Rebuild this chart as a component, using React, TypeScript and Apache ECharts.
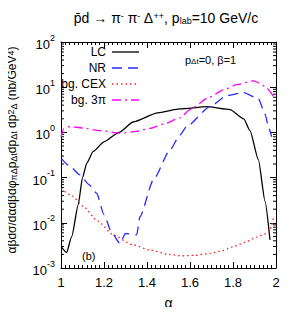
import React, { useEffect, useRef } from "react";
import * as echarts from "echarts";

const xTicks = [1, 1.2, 1.4, 1.6, 1.8, 2];

const lcAlpha = [1.0, 1.026, 1.05, 1.08, 1.1, 1.12, 1.15, 1.2, 1.27, 1.336, 1.45, 1.553, 1.678, 1.786, 1.85, 1.879, 1.918, 1.949, 1.972];
const lcValues = [0.003, 0.0022, 0.005, 0.025, 0.1, 0.21, 0.38, 0.62, 1.0, 1.7, 2.7, 3.3, 3.7, 3.2, 2.0, 1.1, 0.25, 0.03, 0.0042];

const nrAlpha = [1.0, 1.04, 1.088, 1.13, 1.166, 1.2, 1.236, 1.274, 1.3, 1.352, 1.367, 1.43, 1.507, 1.553, 1.584, 1.693, 1.77, 1.848, 1.918, 1.95, 1.964, 1.98];
const nrValues = [0.27, 0.18, 0.115, 0.07, 0.045, 0.015, 0.006, 0.0035, 0.0058, 0.0054, 0.0135, 0.09, 0.41, 0.87, 1.35, 3.7, 6.5, 7.6, 5.6, 2.5, 1.35, 0.8];

const cexAlpha = [1.0, 1.05, 1.104, 1.17, 1.243, 1.33, 1.414, 1.5, 1.56, 1.62, 1.693, 1.75, 1.805, 1.856, 1.91, 1.938, 1.97, 1.98, 1.99];
const cexValues = [0.057, 0.04, 0.023, 0.011, 0.0054, 0.0033, 0.0025, 0.002, 0.00186, 0.0019, 0.0021, 0.0024, 0.003, 0.0037, 0.0048, 0.0054, 0.0063, 0.009, 0.014];

const bg3Alpha = [1.0, 1.012, 1.042, 1.1, 1.181, 1.274, 1.35, 1.414, 1.48, 1.553, 1.6, 1.69, 1.755, 1.82, 1.894, 1.93, 1.957, 1.988];
const bg3Values = [0.8, 1.2, 1.35, 1.25, 1.1, 0.96, 1.05, 1.23, 1.55, 2.1, 3.2, 6.0, 8.7, 11.5, 13.8, 12, 9.5, 6.2];

const legendNames = ["LC", "NR", "bg. CEX", "bg. 3\u03c0"];
const decades = [-3, -2, -1, 0, 1];

const FONT = "Liberation Sans, Arial, sans-serif";

function pairs(xs: number[], ys: number[]) {
  return xs.map((x, i) => [x, ys[i]]);
}

export default function App() {
  const ref = useRef<HTMLDivElement>(null);
  useEffect(() => {
    if (!ref.current) return;
    const chart = echarts.init(ref.current, undefined, { renderer: "svg" });
    const minorVals: number[][] = [];
    decades.forEach((d) => {
      for (let k = 2; k <= 9; k++) minorVals.push([1, k * Math.pow(10, d)]);
    });
    const supStyle = { fontSize: 9, verticalAlign: "top" as const, lineHeight: 9, fontFamily: FONT, color: "#000" };
    const subStyle = { fontSize: 9, verticalAlign: "bottom" as const, lineHeight: 9, fontFamily: FONT, color: "#000" };
    const styles = [
      { color: "#000000", type: "solid" as any },
      { color: "#2b2bff", type: [10, 6] as any },
      { color: "#ff2020", type: [1.5, 3] as any },
      { color: "#ff00ff", type: [9, 4, 2, 4] as any },
    ];
    const datasets = [
      pairs(lcAlpha, lcValues),
      pairs(nrAlpha, nrValues),
      pairs(cexAlpha, cexValues),
      pairs(bg3Alpha, bg3Values),
    ];
    const legendY = [52, 68, 84, 100];
    const legendGraphics: any[] = [];
    legendNames.forEach((n, i) => {
      legendGraphics.push({
        type: "text",
        x: 106,
        y: legendY[i],
        style: { text: n, font: `12px ${FONT}`, fill: "#000", align: "right", verticalAlign: "middle" },
      });
      legendGraphics.push({
        type: "line",
        shape: { x1: 112, y1: legendY[i], x2: 139, y2: legendY[i] },
        style: { stroke: styles[i].color, lineWidth: 1.3, lineDash: styles[i].type === "solid" ? null : styles[i].type },
      });
    });

    const option: any = {
      animation: false,
      grid: { left: 61, right: 24, top: 42, bottom: 45 },
      xAxis: [
        {
          type: "value",
          min: 1,
          max: 2,
          interval: 0.2,
          axisLine: { show: true, onZero: false, lineStyle: { color: "#000", width: 1 } },
          axisTick: { show: true, inside: true, length: 6, lineStyle: { color: "#000" } },
          minorTick: { show: true, splitNumber: 10, length: 3, lineStyle: { color: "#000" } },
          splitLine: { show: false },
          axisLabel: {
            fontSize: 13,
            fontFamily: FONT,
            color: "#000",
            margin: 8,
            formatter: (v: number) => String(Math.round(v * 10) / 10),
          },
          name: "\u03b1",
          nameLocation: "middle",
          nameGap: 28,
          nameTextStyle: { fontSize: 14, fontFamily: FONT, color: "#000" },
        },
        {
          type: "value",
          position: "top",
          min: 1,
          max: 2,
          interval: 0.2,
          axisLine: { show: true, onZero: false, lineStyle: { color: "#000", width: 1 } },
          axisTick: { show: true, inside: true, length: 6, lineStyle: { color: "#000" } },
          minorTick: { show: true, splitNumber: 10, length: 3, lineStyle: { color: "#000" } },
          splitLine: { show: false },
          axisLabel: { show: false },
        },
      ],
      yAxis: [
        {
          type: "log",
          logBase: 10,
          min: 0.001,
          max: 100,
          axisLine: { show: true, onZero: false, lineStyle: { color: "#000", width: 1 } },
          axisTick: { show: true, inside: true, length: 6, lineStyle: { color: "#000" } },
          splitLine: { show: false },
          axisLabel: {
            margin: 6,
            formatter: (v: number) => `{b|10}{s|${Math.round(Math.log10(v))}}`,
            rich: {
              b: { fontSize: 13, fontFamily: FONT, color: "#000", lineHeight: 18, verticalAlign: "bottom" },
              s: { fontSize: 9, fontFamily: FONT, color: "#000", lineHeight: 18, verticalAlign: "top" },
            },
          },
        },
        {
          type: "log",
          logBase: 10,
          min: 0.001,
          max: 100,
          position: "right",
          axisLine: { show: true, onZero: false, lineStyle: { color: "#000", width: 1 } },
          axisTick: { show: true, inside: true, length: 6, lineStyle: { color: "#000" } },
          splitLine: { show: false },
          axisLabel: { show: false },
        },
      ],
      series: [
        ...datasets.map((d, i) => ({
          type: "line",
          name: legendNames[i],
          data: d,
          showSymbol: false,
          symbol: "none",
          smooth: 0.2,
          smoothMonotone: "x",
          lineStyle: { color: styles[i].color, width: 1.3, type: styles[i].type },
          z: 3,
        })),
        {
          type: "custom",
          data: minorVals,
          silent: true,
          z: 2,
          renderItem: (params: any, api: any) => {
            const v = api.value(1);
            const pl = api.coord([1, v]);
            const pr = api.coord([2, v]);
            return {
              type: "group",
              children: [
                { type: "line", shape: { x1: pl[0], y1: pl[1], x2: pl[0] + 3, y2: pl[1] }, style: { stroke: "#000", lineWidth: 1 } },
                { type: "line", shape: { x1: pr[0], y1: pr[1], x2: pr[0] - 3, y2: pr[1] }, style: { stroke: "#000", lineWidth: 1 } },
              ],
            };
          },
        },
      ],
      graphic: [
        {
          type: "text",
          x: 166,
          y: 18,
          style: {
            text: "p\u0304d \u2192 \u03c0{sup|-} \u03c0{sup|-} \u0394{sup|++}, p{sub|lab}=10 GeV/c",
            font: `14px ${FONT}`,
            fill: "#000",
            align: "center",
            verticalAlign: "middle",
            rich: {
              sup: supStyle,
              sub: subStyle,
            },
          },
        },
        {
          type: "text",
          x: 185,
          y: 60,
          style: {
            text: "p{sub|\u0394t}=0, \u03b2=1",
            font: `11px ${FONT}`,
            fill: "#000",
            align: "left",
            verticalAlign: "middle",
            rich: { sub: { ...subStyle, fontSize: 8 } },
          },
        },
        {
          type: "text",
          x: 82,
          y: 256,
          style: { text: "(b)", font: `11px ${FONT}`, fill: "#000", align: "left", verticalAlign: "middle" },
        },
        {
          type: "text",
          x: 12,
          y: 150,
          rotation: Math.PI / 2,
          style: {
            text: "\u03b1\u03b2d\u03c3/d\u03b1d\u03b2d\u03c6{sub|\u03c0\u0394}p{sub|\u0394t}dp{sub|\u0394t} dp{sup|2}{sub|\u0394} (nb/GeV{sup|4})",
            font: `12px ${FONT}`,
            fill: "#000",
            align: "center",
            verticalAlign: "middle",
            rich: { sup: supStyle, sub: subStyle },
          },
        },
        ...legendGraphics,
      ],
    };
    chart.setOption(option);
    return () => chart.dispose();
  }, []);
  return <div ref={ref} style={{ width: 300, height: 315, margin: -8 }} />;
}
